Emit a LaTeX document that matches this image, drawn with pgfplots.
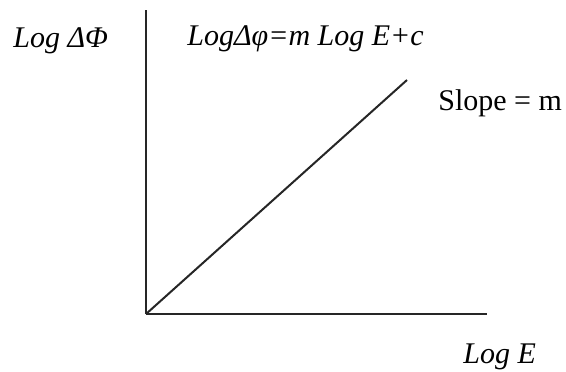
\documentclass[border=0pt]{standalone}
\usepackage{pgfplots}
\pgfplotsset{compat=1.18}
\usepackage{fontspec}
\setmainfont{Liberation Serif}

\begin{document}
\begin{tikzpicture}
\begin{axis}[
    scale only axis,
    width=170.5pt,
    height=152pt,
    xmin=0, xmax=341,
    ymin=0, ymax=304,
    axis lines=left,
    axis line style={line width=1pt, color=black!85, -},
    xtick=\empty,
    ytick=\empty,
    clip=false,
]
% invisible frame: sets the page to the reference proportions
\path (axis cs:-146,-57) rectangle (axis cs:420,314);

\addplot[line width=1pt, color=black!85] coordinates {(0,0) (261,234)};

\begin{scope}[font=\fontsize{15}{18}\selectfont]
\node[anchor=base west, inner sep=0pt] at (axis cs:-133,267) {\textit{Log ΔΦ}};
\node[anchor=base west, inner sep=0pt] at (axis cs:41,269) {\textit{LogΔφ=m Log E+c}};
\node[anchor=base west, inner sep=0pt] at (axis cs:292,204) {Slope = m};
\node[anchor=base west, inner sep=0pt] at (axis cs:317,-49) {\textit{Log E}};
\end{scope}
\end{axis}
\end{tikzpicture}
\end{document}
